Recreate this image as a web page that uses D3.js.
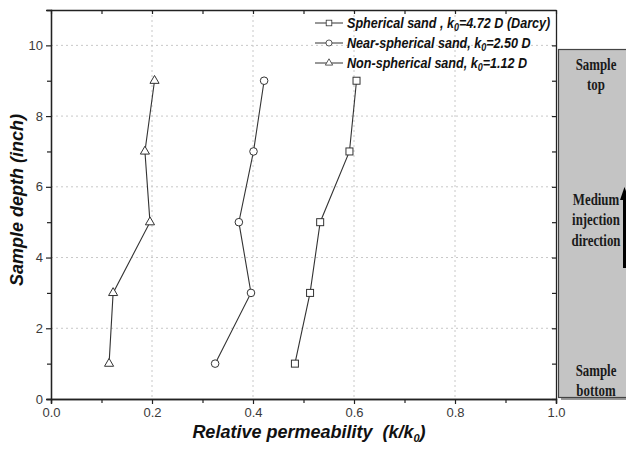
<!DOCTYPE html>
<html>
<head>
<meta charset="utf-8">
<script src="https://cdn.jsdelivr.net/npm/d3@7"></script>
<style>
  body { margin: 0; background: #fff; }
  text { font-family: Arial, "Liberation Sans", sans-serif; }
  .panel text { font-family: "Liberation Serif", "Times New Roman", serif; }
</style>
</head>
<body>
<svg id="chart"></svg>
<script>
// sample depths (inch) where permeability was measured
const depths = [1, 3, 5, 7, 9];
const spherical = [0.483, 0.513, 0.533, 0.591, 0.605];
const nearSpherical = [0.325, 0.396, 0.372, 0.401, 0.422];
const nonSpherical = [0.115, 0.123, 0.196, 0.186, 0.205];

const seriesNames = ["Spherical sand , k", "Near-spherical sand, k", "Non-spherical sand, k"];
const seriesTails = ["=4.72 D (Darcy)", "=2.50 D", "=1.12 D"];
const seriesShapes = ["square", "circle", "triangle"];

const xTicks = [0, 0.2, 0.4, 0.6, 0.8, 1.0];
const yTicks = [0, 2, 4, 6, 8, 10];

const W = 626, H = 450;
const margin = { top: 10, right: 70, bottom: 51, left: 51 };
const w = W - margin.left - margin.right;
const h = H - margin.top - margin.bottom;

const svg = d3.select("#chart").attr("width", W).attr("height", H);
const g = svg.append("g").attr("transform", `translate(${margin.left},${margin.top})`);

const x = d3.scaleLinear().domain([0, 1]).range([0, w]);
const y = d3.scaleLinear().domain([0, 11]).range([h, 0]);

// dotted grid
g.append("g").selectAll("line")
  .data(yTicks.filter(d => d > 0))
  .join("line")
  .attr("x1", 0).attr("x2", w)
  .attr("y1", d => y(d)).attr("y2", d => y(d))
  .attr("stroke", "#c8c8c8").attr("stroke-dasharray", "2,3");
g.append("g").selectAll("line")
  .data(xTicks.filter(d => d > 0 && d < 1))
  .join("line")
  .attr("y1", 0).attr("y2", h)
  .attr("x1", d => x(d)).attr("x2", d => x(d))
  .attr("stroke", "#c8c8c8").attr("stroke-dasharray", "2,3");

// axes
const styleAxis = sel => {
  sel.select(".domain").attr("stroke", "#222").attr("stroke-width", 1.3);
  sel.selectAll(".tick line").attr("stroke", "#222").attr("stroke-width", 1.2);
  sel.selectAll("text").attr("font-size", 13).attr("fill", "#3a3a3a");
};
const minorX = d3.range(0.1, 1, 0.2);
const minorY = d3.range(1, 11, 2);

g.append("g").attr("transform", `translate(0,${h})`)
  .call(d3.axisBottom(x).tickValues(xTicks).tickFormat(d3.format(".1f")).tickSize(5).tickPadding(4))
  .call(styleAxis);
g.append("g").attr("transform", `translate(0,${h})`)
  .call(d3.axisBottom(x).tickValues(minorX).tickFormat("").tickSize(4))
  .call(styleAxis);
g.append("g")
  .call(d3.axisLeft(y).tickValues(yTicks).tickSize(5).tickPadding(3))
  .call(styleAxis);
g.append("g")
  .call(d3.axisLeft(y).tickValues(minorY).tickFormat("").tickSize(4))
  .call(styleAxis);
g.append("g")
  .call(d3.axisTop(x).tickValues(xTicks.concat(minorX)).tickFormat("").tickSize(-4).tickSizeOuter(0))
  .call(styleAxis);
g.append("g").attr("transform", `translate(${w},0)`)
  .call(d3.axisRight(y).tickValues(yTicks.concat(minorY)).tickFormat("").tickSize(-4).tickSizeOuter(0))
  .call(styleAxis);

// axis titles
svg.append("text")
  .attr("transform", `translate(23,200) rotate(-90)`)
  .attr("text-anchor", "middle")
  .attr("font-size", 18).attr("font-weight", "bold").attr("font-style", "italic")
  .attr("fill", "#111")
  .text("Sample depth (inch)");
const xt = svg.append("text")
  .attr("x", 309).attr("y", 438)
  .attr("text-anchor", "middle")
  .attr("font-size", 18).attr("font-weight", "bold").attr("font-style", "italic")
  .attr("fill", "#111");
xt.append("tspan").text("Relative permeability\u00a0\u00a0(k/k");
xt.append("tspan").attr("font-size", 11).attr("dy", 4).text("0");
xt.append("tspan").attr("dy", -4).text(")");

// series
const allSeries = [spherical, nearSpherical, nonSpherical];
const line = d3.line().x(d => x(d[0])).y(d => y(d[1]));

function drawMarker(sel, shape) {
  if (shape === "square") {
    sel.append("rect").attr("x", -3.5).attr("y", -3.5).attr("width", 7).attr("height", 7);
  } else if (shape === "circle") {
    sel.append("circle").attr("r", 3.8);
  } else {
    sel.append("path").attr("d", d3.symbol(d3.symbolTriangle, 36)());
  }
  sel.selectAll("rect,circle,path")
    .attr("fill", "#fff").attr("stroke", "#333").attr("stroke-width", 1);
}

allSeries.forEach((vals, i) => {
  const pts = vals.map((v, j) => [v, depths[j]]);
  g.append("path").datum(pts)
    .attr("d", line)
    .attr("fill", "none").attr("stroke", "#333").attr("stroke-width", 1.1);
  g.append("g").selectAll("g")
    .data(pts)
    .join("g")
    .attr("transform", d => `translate(${x(d[0])},${y(d[1])})`)
    .each(function () { drawMarker(d3.select(this), seriesShapes[i]); });
});

// legend
const legend = svg.append("g");
seriesNames.forEach((name, i) => {
  const ly = 23 + i * 20;
  const item = legend.append("g").attr("transform", `translate(0,${ly})`);
  item.append("line").attr("x1", 315).attr("x2", 343).attr("y1", 0).attr("y2", 0)
    .attr("stroke", "#333");
  const m = item.append("g").attr("transform", "translate(329,0) scale(0.8)");
  drawMarker(m, seriesShapes[i]);
  const t = item.append("text").attr("transform", "translate(347,5) scale(0.9,1)")
    .attr("font-size", 14).attr("font-weight", "bold").attr("font-style", "italic")
    .attr("fill", "#111");
  t.append("tspan").text(name);
  t.append("tspan").attr("font-size", 10).attr("dy", 3).text("0");
  t.append("tspan").attr("dy", -3).text(seriesTails[i]);
});

// side panel with injection direction
const panel = svg.append("g").attr("class", "panel");
panel.append("rect").attr("x", 561).attr("y", 52).attr("width", 70).attr("height", 348)
  .attr("fill", "#9a9a9a");
panel.append("rect").attr("x", 558.5).attr("y", 49.5).attr("width", 70).attr("height", 348)
  .attr("fill", "#c4c4c4").attr("stroke", "#444").attr("stroke-width", 1.2);
const panelText = [
  ["Sample", 70], ["top", 90],
  ["Medium", 205], ["injection", 225], ["direction", 246],
  ["Sample", 376], ["bottom", 396]
];
panel.selectAll("text").data(panelText).join("text")
  .attr("transform", d => `translate(596,${d[1]}) scale(0.78,1)`)
  .attr("text-anchor", "middle")
  .attr("font-size", 16.5).attr("font-weight", "bold").attr("fill", "#1a1a1a")
  .text(d => d[0]);
panel.append("line").attr("x1", 624.5).attr("x2", 624.5).attr("y1", 268).attr("y2", 198)
  .attr("stroke", "#000").attr("stroke-width", 3);
panel.append("path").attr("d", "M620,200 L624.5,187 L629,200 Z").attr("fill", "#000");
</script>
</body>
</html>
